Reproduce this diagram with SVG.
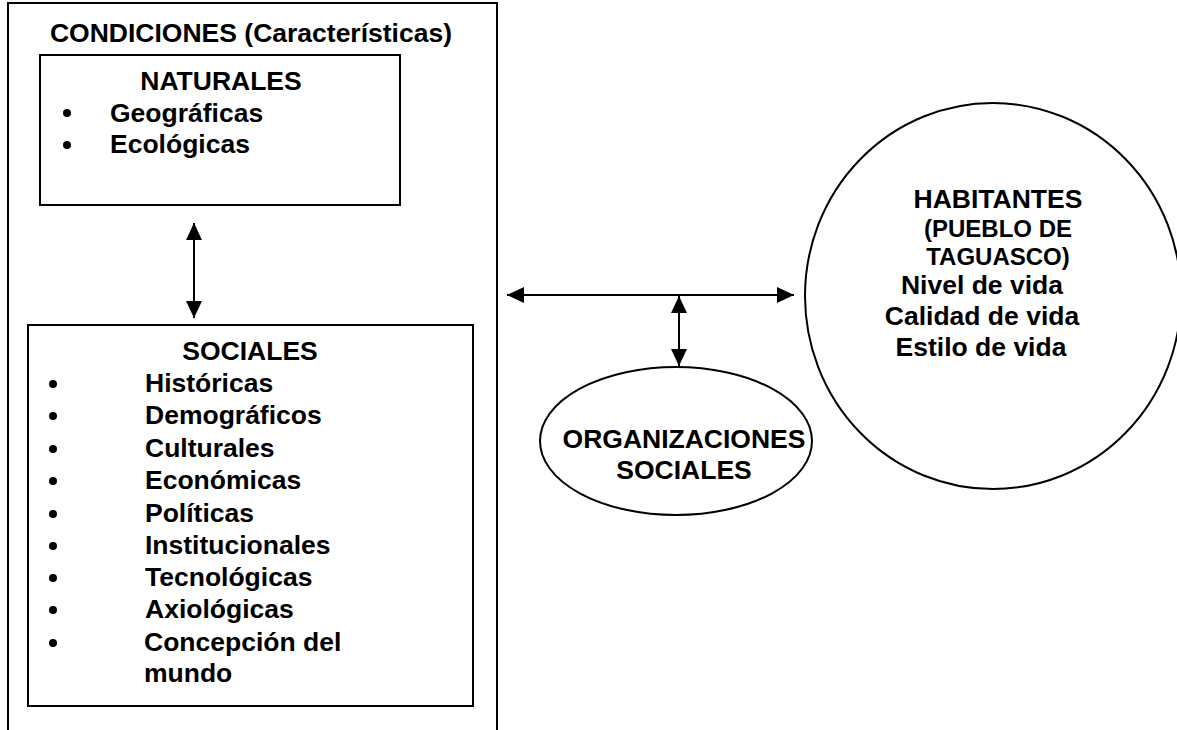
<svg xmlns="http://www.w3.org/2000/svg" width="1177" height="730" viewBox="0 0 1177 730">
<defs>
<style>
.t{font-family:"Liberation Sans",Arial,sans-serif;font-weight:bold;font-size:26.5px;fill:#000}
.s{font-size:24px}
.c{text-anchor:middle}
.box{fill:#fff;stroke:#000;stroke-width:2}
.ln{fill:none;stroke:#000;stroke-width:2}
.con{stroke:#000;stroke-width:2;fill:none;marker-start:url(#ah);marker-end:url(#ah)}
</style>
<marker id="ah" viewBox="0 0 17 16" refX="17" refY="8" markerWidth="17" markerHeight="16" markerUnits="userSpaceOnUse" orient="auto-start-reverse">
<path d="M0,0 L17,8 L0,16 z" fill="#000"/>
</marker>
</defs>
<rect width="1177" height="730" fill="#fff"/>
<g id="condiciones">
<path class="ln" d="M8,740 L8,3 L497,3 L497,740"/>
<text class="t c" x="251" y="42">CONDICIONES (Características)</text>
</g>
<g id="naturales">
<rect class="box" x="40" y="55" width="360" height="150"/>
<text class="t c" x="221" y="90">NATURALES</text>
<circle cx="67" cy="113" r="4"/>
<text class="t" x="110" y="122">Geográficas</text>
<circle cx="67" cy="145" r="4"/>
<text class="t" x="110" y="153">Ecológicas</text>
</g>
<g id="sociales">
<rect class="box" x="28" y="325" width="445" height="381"/>
<text class="t c" x="250" y="360">SOCIALES</text>
<g>
<circle cx="53" cy="384" r="4"/><text class="t" x="145" y="392">Históricas</text>
<circle cx="53" cy="416" r="4"/><text class="t" x="145" y="424">Demográficos</text>
<circle cx="53" cy="449" r="4"/><text class="t" x="145" y="457">Culturales</text>
<circle cx="53" cy="481" r="4"/><text class="t" x="145" y="489">Económicas</text>
<circle cx="53" cy="514" r="4"/><text class="t" x="145" y="522">Políticas</text>
<circle cx="53" cy="546" r="4"/><text class="t" x="145" y="554">Institucionales</text>
<circle cx="53" cy="578" r="4"/><text class="t" x="145" y="586">Tecnológicas</text>
<circle cx="53" cy="610" r="4"/><text class="t" x="145" y="618">Axiológicas</text>
<circle cx="53" cy="643" r="4"/><text class="t" x="144" y="651">Concepción del</text>
<text class="t" x="144" y="682">mundo</text>
</g>
</g>
<g id="organizaciones">
<ellipse class="box" cx="676" cy="441" rx="136" ry="74"/>
<text class="t c" x="684" y="448">ORGANIZACIONES</text>
<text class="t c" x="684" y="479">SOCIALES</text>
</g>
<g id="habitantes">
<ellipse class="box" cx="993" cy="296" rx="188" ry="193"/>
<text class="t c" x="998" y="208">HABITANTES</text>
<text class="t s c" x="998" y="237">(PUEBLO DE</text>
<text class="t s c" x="998" y="265">TAGUASCO)</text>
<text class="t c" x="982" y="294">Nivel de vida</text>
<text class="t c" x="982" y="325">Calidad de vida</text>
<text class="t c" x="981" y="356">Estilo de vida</text>
</g>
<g id="connectors">
<line class="con" x1="194" y1="223" x2="194" y2="318"/>
<line class="con" x1="507" y1="295" x2="794" y2="295"/>
<line class="con" x1="679" y1="296" x2="679" y2="366"/>
</g>
</svg>
